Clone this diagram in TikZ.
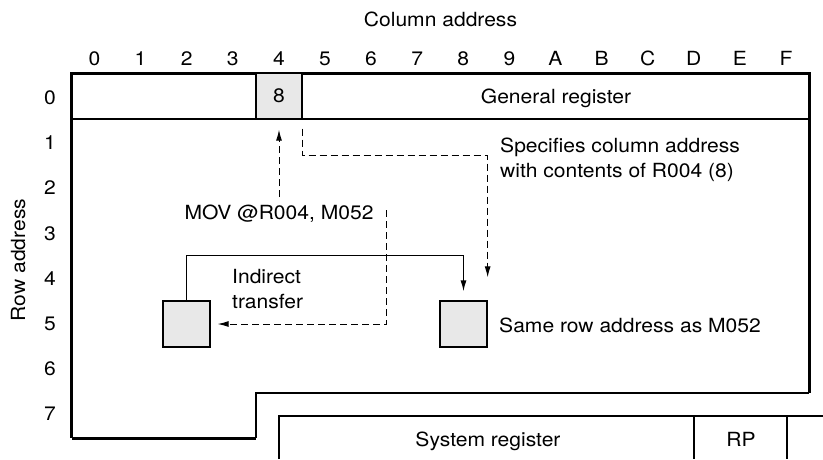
\documentclass[tikz,border=0pt]{standalone}
\usepackage{fontspec}
\setmainfont{TeX Gyre Heros}[FakeStretch=1.08]
\usetikzlibrary{arrows.meta,positioning}
\begin{document}
\begin{tikzpicture}[x=1pt, y=-1pt, font=\fontsize{19.5}{24.5}\selectfont, line join=miter,
    >={Latex[length=11pt,width=6pt]}]
  \tikzset{
    thinline/.style={line width=1.3pt},
    thickline/.style={line width=3pt},
    dotcell/.style={draw, thinline, fill=gray!18, minimum width=46pt, minimum height=46pt, inner sep=0pt},
    dasharrow/.style={->, line width=1pt, dash pattern=on 7pt off 4pt},
    lbl/.style={inner sep=0pt, anchor=base},
    lblw/.style={inner sep=0pt, anchor=base west, align=left},
  }
  \def\cw{46.1}  % column width
  \def\rh{45.2}  % row spacing
  \def\xl{71.5} \def\xr{809}
  \useasboundingbox (0,0) rectangle (823,459);
  % address labels
  \node[lbl] (coltitle) at (440.5,26.7) {Column address};
  \node[lbl, rotate=90] (rowtitle) at (25,260) {Row address};
  \foreach \c [count=\i from 0] in {0,1,2,3,4,5,6,7,8,9,A,B,C,D,E,F}
    \node[lbl] (col\c) at ({94.5+\cw*\i},65.7) {\c};
  \foreach \r in {0,...,7}
    \node[lbl] (row\r) at (50,{104.5+\rh*\r}) {\r};
  % register file outline
  \draw[thickline] (\xl,438) -- (\xl,73) -- (\xr,73) -- (\xr,393);
  \draw[thickline] (\xl,438) -- (256,438);
  \draw[thinline] (256,438) -- (256,393) -- (\xr,393);
  \draw[thinline] (\xl,119) -- (\xr,119);
  \node[dotcell] (cell4) at (279,96) {8};
  \node[lbl] (genreg) at (556,103.3) {General register};
  % system register
  \draw[thinline] (279,459) -- (279,416) -- (823,416);
  \draw[thinline] (694,416) -- (694,459);
  \draw[thinline] (787,416) -- (787,459);
  \node[lbl] (sysreg) at (488,446.7) {System register};
  \node[lbl] (rp) at (741,446.7) {RP};
  % transfer
  \node[dotcell, minimum width=47pt] (boxL) at (186.5,324) {};
  \node[dotcell, minimum width=47pt] (boxR) at (463.5,324) {};
  \node[lbl] (mov) at (279,219) {MOV @R004, M052};
  \node[lblw] (spec) at (500,177) {Specifies column address\\with contents of R004 (8)};
  \node[lblw] (indir) at (232,308) {Indirect\\transfer};
  \node[lblw] (same) at (499,332.7) {Same row address as M052};
  \draw[dasharrow] ([yshift=22pt]mov.base) -- ([yshift=-10pt]cell4.south);
  \draw[dasharrow] ([yshift=-9pt]cell4.south east) -- ++(0,27) -| ([yshift=23pt]boxR.north east);
  \draw[thinline, ->] (boxL.north) -- ++(0,-45) -| ([yshift=9pt]boxR.north);
  \draw[dasharrow] ([xshift=13pt,yshift=9pt]mov.base east) |- ([xshift=7pt]boxL.east);
\end{tikzpicture}
\end{document}
